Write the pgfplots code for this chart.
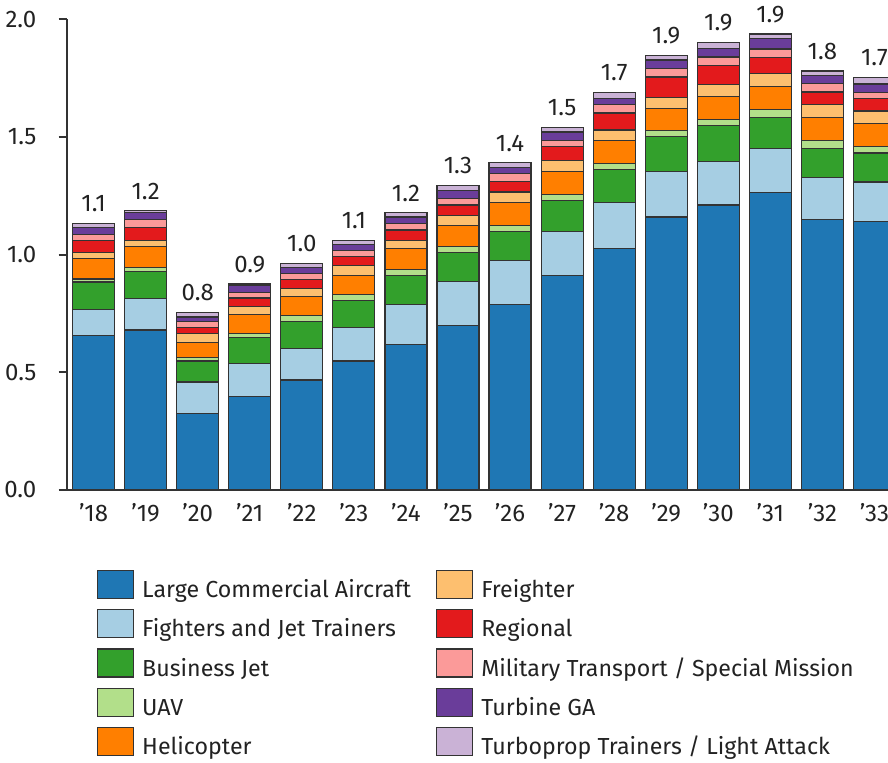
\documentclass[border=0pt]{standalone}
\usepackage{pgfplots}
\pgfplotsset{compat=1.18}
\usepackage{pgfplotstable}
\usepackage{fontspec}
\setmainfont{Fira Sans}
\definecolor{cLCA}{HTML}{1F77B4}
\definecolor{cFJT}{HTML}{A6CEE3}
\definecolor{cBJ}{HTML}{33A02C}
\definecolor{cUAV}{HTML}{B2DF8A}
\definecolor{cHeli}{HTML}{FF7F00}
\definecolor{cFrt}{HTML}{FDBF6F}
\definecolor{cReg}{HTML}{E31A1C}
\definecolor{cMil}{HTML}{FB9A99}
\definecolor{cTGA}{HTML}{6A3D9A}
\definecolor{cTP}{HTML}{CAB2D6}
\definecolor{axisgray}{HTML}{333333}
\definecolor{textgray}{HTML}{222222}

\pgfplotstableread{
x LCA FJT BJ UAV Heli Frt Reg Mil TGA TP tot lab
0 0.655 0.113 0.115 0.013 0.086 0.025 0.054 0.024 0.028 0.019 1.132 1.1
1 0.679 0.135 0.115 0.017 0.089 0.025 0.054 0.036 0.028 0.008 1.186 1.2
2 0.326 0.133 0.089 0.016 0.064 0.035 0.027 0.025 0.020 0.018 0.753 0.8
3 0.396 0.142 0.109 0.016 0.081 0.034 0.037 0.025 0.027 0.008 0.875 0.9
4 0.467 0.133 0.116 0.025 0.081 0.034 0.037 0.025 0.027 0.017 0.962 1.0
5 0.548 0.141 0.115 0.027 0.079 0.044 0.037 0.025 0.027 0.018 1.061 1.1
6 0.619 0.167 0.124 0.027 0.087 0.036 0.044 0.027 0.028 0.018 1.177 1.2
7 0.698 0.186 0.124 0.027 0.087 0.044 0.044 0.027 0.036 0.020 1.293 1.3
8 0.786 0.187 0.123 0.027 0.098 0.044 0.044 0.035 0.027 0.018 1.389 1.4
9 0.910 0.186 0.133 0.027 0.098 0.044 0.062 0.025 0.035 0.020 1.540 1.5
10 1.025 0.195 0.142 0.025 0.098 0.044 0.072 0.035 0.027 0.025 1.688 1.7
11 1.159 0.195 0.146 0.025 0.096 0.045 0.088 0.035 0.037 0.020 1.846 1.9
12 1.210 0.186 0.151 0.027 0.096 0.053 0.081 0.035 0.037 0.025 1.901 1.9
13 1.264 0.185 0.133 0.035 0.096 0.054 0.071 0.035 0.045 0.018 1.936 1.9
14 1.149 0.177 0.123 0.036 0.098 0.054 0.053 0.035 0.035 0.019 1.779 1.8
15 1.139 0.169 0.123 0.027 0.098 0.053 0.053 0.025 0.037 0.028 1.752 1.7
}\data

\pgfplotsset{
  swatch/.style={legend image code/.code={\draw[##1,line width=0.6pt] (0pt,-3.2pt) rectangle (18pt,10.8pt);}},
  frame/.style={scale only axis, width=410.65pt, height=235.5pt,
    xmin=-0.515, xmax=15.26, ymin=0, ymax=2, clip=false},
}

\begin{document}
\begin{tikzpicture}[font=\fontsize{11}{13}\selectfont]
\begin{axis}[
  frame,
  ybar stacked, bar width=21pt,
  axis x line*=bottom, axis y line*=left,
  axis line style={line width=1pt, draw=axisgray},
  xtick={0,...,15},
  xticklabels={’18,’19,’20,’21,’22,’23,’24,’25,’26,’27,’28,’29,’30,’31,’32,’33},
  x tick style={draw=none},
  ytick={0,0.5,1,1.5,2},
  y tick style={line width=1pt, draw=axisgray},
  tick align=outside, major tick length=4pt,
  /pgf/number format/assume math mode=true,
  yticklabel style={/pgf/number format/fixed, /pgf/number format/fixed zerofill, /pgf/number format/precision=1},
  ticklabel style={text=textgray, font=\fontsize{12}{14}\selectfont},
  xticklabel style={inner sep=0pt, anchor=north, yshift=-2.5pt},
  yticklabel style={inner sep=0pt, anchor=east, xshift=-11pt},
  legend columns=2,
  legend cell align=left,
  legend style={at={(0.0369,-0.1698)}, anchor=north west, draw=none, fill=none,
    inner sep=0pt, outer sep=0pt, text=textgray,
    font=\fontsize{11.6}{13}\selectfont,
    nodes={inner sep=0pt, text height=8pt, text depth=2.5pt},
    /tikz/every odd column/.append style={column sep=4pt},
    /tikz/every even column/.append style={column sep=12.5pt},
    row sep=3.25pt},
  every axis plot/.append style={draw=axisgray, line width=0.6pt},
]
\addplot[forget plot, fill=cLCA] table[x=x,y=LCA] {\data};
\addplot[forget plot, fill=cFJT] table[x=x,y=FJT] {\data};
\addplot[forget plot, fill=cBJ] table[x=x,y=BJ] {\data};
\addplot[forget plot, fill=cUAV] table[x=x,y=UAV] {\data};
\addplot[forget plot, fill=cHeli] table[x=x,y=Heli] {\data};
\addplot[forget plot, fill=cFrt] table[x=x,y=Frt] {\data};
\addplot[forget plot, fill=cReg] table[x=x,y=Reg] {\data};
\addplot[forget plot, fill=cMil] table[x=x,y=Mil] {\data};
\addplot[forget plot, fill=cTGA] table[x=x,y=TGA] {\data};
\addplot[forget plot, fill=cTP] table[x=x,y=TP] {\data};
\addlegendimage{swatch, fill=cLCA, draw=axisgray}
\addlegendimage{swatch, fill=cFrt, draw=axisgray}
\addlegendimage{swatch, fill=cFJT, draw=axisgray}
\addlegendimage{swatch, fill=cReg, draw=axisgray}
\addlegendimage{swatch, fill=cBJ, draw=axisgray}
\addlegendimage{swatch, fill=cMil, draw=axisgray}
\addlegendimage{swatch, fill=cUAV, draw=axisgray}
\addlegendimage{swatch, fill=cTGA, draw=axisgray}
\addlegendimage{swatch, fill=cHeli, draw=axisgray}
\addlegendimage{swatch, fill=cTP, draw=axisgray}
\legend{Large Commercial Aircraft, Freighter, Fighters and Jet Trainers, Regional, Business Jet, Military Transport / Special Mission, UAV, Turbine GA, Helicopter, Turboprop Trainers / Light Attack}
\coordinate (bbtl) at (axis cs:-1.797,2.0807);
\coordinate (bbbr) at (axis cs:15.26,-1.159);
\end{axis}
\begin{axis}[frame, hide axis]
\addplot[draw=none, mark=none, nodes near coords, point meta=explicit symbolic,
  nodes near coords style={text=textgray, font=\fontsize{12}{14}\selectfont, anchor=south, inner sep=0pt, yshift=5.5pt}]
  table[x=x, y=tot, meta=lab] {\data};
\end{axis}
\pgfresetboundingbox
\path[use as bounding box] (bbtl) rectangle (bbbr);
\end{tikzpicture}
\end{document}
